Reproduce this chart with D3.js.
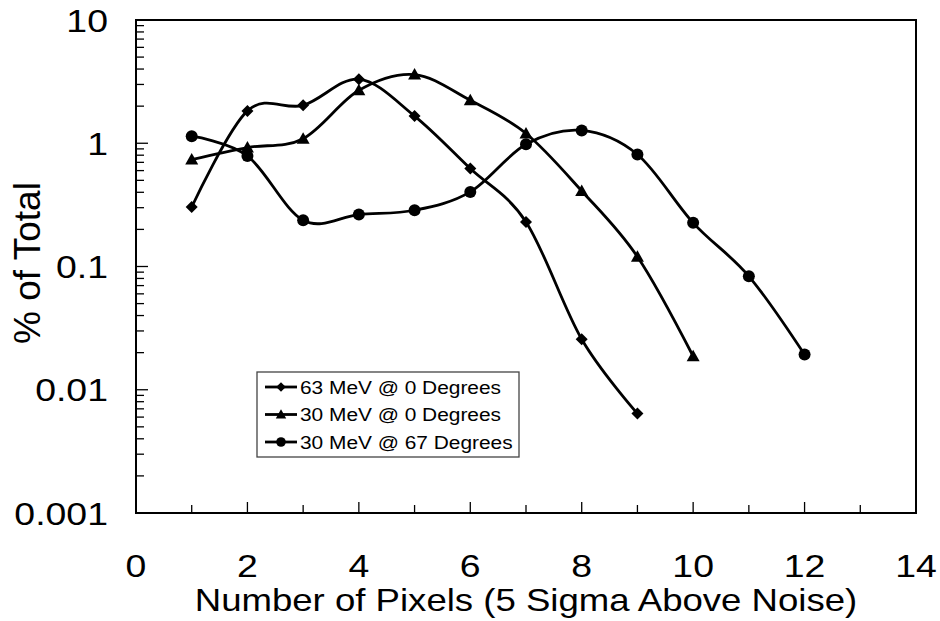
<!DOCTYPE html>
<html>
<head>
  <script src="https://d3js.org/d3.v7.min.js"></script>
  <style>
    body { margin: 0; background: #fff; }
    text { font-family: Arial, "Liberation Sans", sans-serif; fill: #000; }
  </style>
</head>
<body>
<script>
// data
var pixels63 = [1, 2, 3, 4, 5, 6, 7, 8, 9];
var pct63 = [0.304, 1.83, 2.03, 3.31, 1.66, 0.623, 0.230, 0.0257, 0.00641];

var pixels30 = [1, 2, 3, 4, 5, 6, 7, 8, 9, 10];
var pct30 = [0.738, 0.923, 1.09, 2.69, 3.61, 2.23, 1.20, 0.41, 0.12, 0.0187];

var pixels67 = [1, 2, 3, 4, 5, 6, 7, 8, 9, 10, 11, 12];
var pct67 = [1.14, 0.789, 0.237, 0.264, 0.286, 0.403, 0.98, 1.27, 0.81, 0.226, 0.0833, 0.0193];

var seriesNames = ["63 MeV @ 0 Degrees", "30 MeV @ 0 Degrees", "30 MeV @ 67 Degrees"];
var xTickValues = [0, 2, 4, 6, 8, 10, 12, 14];
var yTickValues = [0.001, 0.01, 0.1, 1, 10];
var yTickLabels = ["0.001", "0.01", "0.1", "1", "10"];

var width = 940, height = 621;
// plot box (note: "top" is taken by window.top, so use other names)
var plotL = 136, plotR = 916, plotT = 20, plotB = 513;

var svg = d3.select('body').append('svg')
    .attr('width', width)
    .attr('height', height);

var x = d3.scaleLinear().domain([0, 14]).range([plotL, plotR]);
var y = d3.scaleLog().domain([0.001, 10]).range([plotB, plotT]);

// marker shapes
var shapes = {
  diamond: function (s) { return 'M0,' + (-6 * s) + 'L' + (6 * s) + ',0L0,' + (6 * s) + 'L' + (-6 * s) + ',0Z'; },
  triangle: function (s) { return 'M0,' + (-6.5 * s) + 'L' + (6.5 * s) + ',' + (5 * s) + 'L' + (-6.5 * s) + ',' + (5 * s) + 'Z'; },
  circle: function (s) { return d3.arc()({ innerRadius: 0, outerRadius: 6 * s, startAngle: 0, endAngle: 2 * Math.PI }); }
};

var series = [
  { name: seriesNames[0], xs: pixels63, ys: pct63, shape: 'diamond' },
  { name: seriesNames[1], xs: pixels30, ys: pct30, shape: 'triangle' },
  { name: seriesNames[2], xs: pixels67, ys: pct67, shape: 'circle' }
];

// y ticks (inside, pointing right)
var yt = svg.append('g');
y.ticks().forEach(function (v) {
  var major = Math.abs(Math.log10(v) - Math.round(Math.log10(v))) < 1e-9;
  yt.append('line')
    .attr('x1', plotL).attr('x2', plotL + (major ? 12 : 8))
    .attr('y1', y(v)).attr('y2', y(v))
    .attr('stroke', '#000').attr('stroke-width', 1.3);
});
yTickValues.forEach(function (v, i) {
  yt.append('text')
    .attr('transform', 'translate(108,' + (y(v) + 11.5) + ') scale(1.17,1)')
    .attr('text-anchor', 'end')
    .style('font-size', '32px')
    .text(yTickLabels[i]);
});

// x ticks (inside, pointing up)
var xt = svg.append('g');
d3.range(0, 15).forEach(function (v) {
  var major = v % 2 === 0;
  xt.append('line')
    .attr('x1', x(v)).attr('x2', x(v))
    .attr('y1', plotB).attr('y2', plotB - (major ? 11 : 8))
    .attr('stroke', '#000').attr('stroke-width', 1.3);
});
xTickValues.forEach(function (v) {
  xt.append('text')
    .attr('transform', 'translate(' + x(v) + ',577) scale(1.17,1)')
    .attr('text-anchor', 'middle')
    .style('font-size', '32px')
    .text(v);
});

// frame
svg.append('rect')
  .attr('x', plotL).attr('y', plotT)
  .attr('width', plotR - plotL).attr('height', plotB - plotT)
  .attr('fill', 'none').attr('stroke', '#000').attr('stroke-width', 2);

// axis titles
svg.append('text')
  .attr('transform', 'translate(' + ((plotL + plotR) / 2) + ',611) scale(1.18,1)')
  .attr('text-anchor', 'middle')
  .style('font-size', '31px')
  .text('Number of Pixels (5 Sigma Above Noise)');

svg.append('text')
  .attr('transform', 'translate(40,263) rotate(-90)')
  .attr('text-anchor', 'middle')
  .style('font-size', '37px')
  .text('% of Total');

// series
var line = d3.line()
  .x(function (d) { return x(d[0]); })
  .y(function (d) { return y(d[1]); })
  .curve(d3.curveCardinal.tension(0));

series.forEach(function (s) {
  var pts = s.xs.map(function (v, i) { return [v, s.ys[i]]; });
  var g = svg.append('g');
  g.append('path')
    .attr('d', line(pts))
    .attr('fill', 'none')
    .attr('stroke', '#000')
    .attr('stroke-width', 2.8);
  g.selectAll('path.m')
    .data(pts)
    .enter()
    .append('path')
    .attr('class', 'm')
    .attr('transform', function (d) { return 'translate(' + x(d[0]) + ',' + y(d[1]) + ')'; })
    .attr('d', shapes[s.shape](1))
    .attr('fill', '#000');
});

// legend
var legend = svg.append('g');
legend.append('rect')
  .attr('x', 257).attr('y', 372)
  .attr('width', 262).attr('height', 85)
  .attr('fill', '#fff').attr('stroke', '#444').attr('stroke-width', 1.3);
series.forEach(function (s, i) {
  var cy = 387 + i * 27.5;
  legend.append('line')
    .attr('x1', 265).attr('x2', 297)
    .attr('y1', cy).attr('y2', cy)
    .attr('stroke', '#000').attr('stroke-width', 2.8);
  legend.append('path')
    .attr('transform', 'translate(281,' + cy + ')')
    .attr('d', shapes[s.shape](0.8))
    .attr('fill', '#000');
  legend.append('text')
    .attr('transform', 'translate(300,' + (cy + 6.5) + ') scale(1.16,1)')
    .style('font-size', '18px')
    .text(s.name);
});
</script>
</body>
</html>
